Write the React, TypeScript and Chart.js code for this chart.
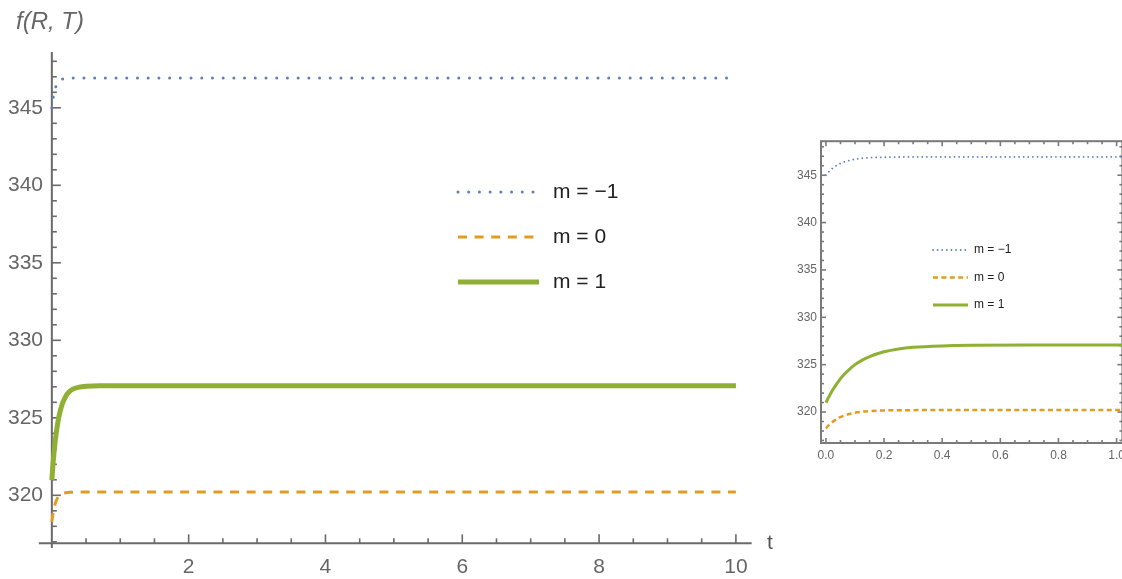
import React, { useEffect, useRef } from "react";
import { Chart, registerables } from "chart.js";

Chart.register(...registerables);

// ---- data ----
const tValues = [0, 0.01, 0.02, 0.03, 0.045, 0.06, 0.075, 0.1, 0.125, 0.15, 0.2, 0.25, 0.3, 0.4, 0.5, 0.7, 1, 2, 4, 6, 8, 10];
const fMinus1 = [345.0, 345.36, 345.66, 345.9, 346.17, 346.38, 346.52, 346.69, 346.79, 346.85, 346.9, 346.92, 346.93, 346.93, 346.93, 346.93, 346.93, 346.93, 346.93, 346.93, 346.93, 346.93];
const fZero = [318.28, 318.62, 318.89, 319.12, 319.4, 319.6, 319.75, 319.93, 320.04, 320.1, 320.17, 320.19, 320.2, 320.21, 320.21, 320.21, 320.21, 320.21, 320.21, 320.21, 320.21, 320.21];
const fOne = [320.98, 321.6, 322.16, 322.66, 323.32, 323.88, 324.35, 325.0, 325.48, 325.86, 326.36, 326.66, 326.83, 326.98, 327.04, 327.07, 327.07, 327.07, 327.07, 327.07, 327.07, 327.07];
const seriesLabels = ["m = \u22121", "m = 0", "m = 1"];
const seriesColors = ["#5E81B5", "#E19C24", "#8FB032"];
const mainYTicks = [320, 325, 330, 335, 340, 345];
const mainXTicks = [2, 4, 6, 8, 10];
const insetYTicks = [320, 325, 330, 335, 340, 345];
const insetXTicks = [0, 0.2, 0.4, 0.6, 0.8, 1.0];
const yAxisTitle = "f(R, T)";
const xAxisTitle = "t";

const SANS = "'Liberation Sans', Arial, sans-serif";
const NARROW = "'Liberation Sans Narrow', 'Arial Narrow', 'Liberation Sans', sans-serif";

function range(a: number, b: number, step: number) {
  const out: number[] = [];
  const n = Math.round((b - a) / step);
  for (let i = 0; i <= n; i++) out.push(+(a + i * step).toFixed(6));
  return out;
}

type Deco = {
  id: string;
  axisColor: string;
  axisWidth: number;
  frame: boolean;
  xAt: number;
  yAt: number;
  xLine: [number, number];
  yLine: [number, number];
  xMinor: number[];
  xMajor: number[];
  yMinor: number[];
  yMajor: number[];
  majorLen: number;
  minorLen: number;
  legend: { x0: number; len: number; textX: number; y0: number; dy: number; font: string; color: string };
  texts: { text: string; x: number; y: number; font: string; color: string }[];
};

function makeDeco(d: Deco) {
  return {
    id: d.id,
    beforeDatasetsDraw(chart: any) {
      const ctx = chart.ctx;
      const xs = chart.scales.x;
      const ys = chart.scales.y;
      const px = (v: number) => xs.getPixelForValue(v);
      const py = (v: number) => ys.getPixelForValue(v);
      ctx.save();
      ctx.strokeStyle = d.axisColor;
      ctx.lineWidth = d.axisWidth;
      ctx.lineCap = "butt";
      const isMajX = (v: number) => d.xMajor.some((m) => Math.abs(m - v) < 1e-6);
      const isMajY = (v: number) => d.yMajor.some((m) => Math.abs(m - v) < 1e-6);
      const l = px(d.xLine[0]);
      const r = px(d.xLine[1]);
      const top = py(d.yLine[1]);
      const bot = py(d.yLine[0]);
      const line = (x1: number, y1: number, x2: number, y2: number) => {
        ctx.beginPath();
        ctx.moveTo(x1, y1);
        ctx.lineTo(x2, y2);
        ctx.stroke();
      };
      if (d.frame) {
        ctx.strokeRect(l, top, r - l, bot - top);
        ctx.lineWidth = d.axisWidth * 0.8;
        d.xMinor.forEach((v) => {
          const len = isMajX(v) ? d.majorLen : d.minorLen;
          const x = px(v);
          line(x, bot, x, bot - len);
          line(x, top, x, top + len);
        });
        d.yMinor.forEach((v) => {
          const len = isMajY(v) ? d.majorLen : d.minorLen;
          const y = py(v);
          line(l, y, l + len, y);
          line(r, y, r - len, y);
        });
      } else {
        const ay = py(d.xAt);
        const ax = px(d.yAt);
        line(l, ay, r, ay);
        line(ax, top, ax, bot);
        ctx.lineWidth = d.axisWidth * 0.8;
        d.xMinor.forEach((v) => {
          const len = isMajX(v) ? d.majorLen : d.minorLen;
          const x = px(v);
          line(x, ay, x, ay - len);
        });
        d.yMinor.forEach((v) => {
          const len = isMajY(v) ? d.majorLen : d.minorLen;
          const y = py(v);
          line(ax, y, ax + len, y);
        });
      }
      ctx.restore();
    },
    afterDraw(chart: any) {
      const ctx = chart.ctx;
      const lg = d.legend;
      chart.data.datasets.forEach((ds: any, i: number) => {
        const y = lg.y0 + i * lg.dy;
        ctx.save();
        ctx.strokeStyle = ds.borderColor;
        ctx.lineWidth = ds.borderWidth;
        ctx.setLineDash(ds.borderDash || []);
        ctx.lineCap = ds.borderCapStyle || "butt";
        ctx.beginPath();
        ctx.moveTo(lg.x0, y);
        ctx.lineTo(lg.x0 + lg.len, y);
        ctx.stroke();
        ctx.restore();
        ctx.save();
        ctx.fillStyle = lg.color;
        ctx.font = lg.font;
        ctx.textAlign = "left";
        ctx.textBaseline = "middle";
        ctx.fillText(ds.label, lg.textX, y);
        ctx.restore();
      });
      d.texts.forEach((t) => {
        ctx.save();
        ctx.fillStyle = t.color;
        ctx.font = t.font;
        ctx.textAlign = "left";
        ctx.textBaseline = "middle";
        ctx.fillText(t.text, t.x, t.y);
        ctx.restore();
      });
    },
  };
}

function buildDatasets(styles: { width: number; dash: number[]; cap: string }[]) {
  const series = [fMinus1, fZero, fOne];
  return series.map((s, i) => ({
    label: seriesLabels[i],
    data: tValues.map((t, k) => ({ x: t, y: s[k] })),
    borderColor: seriesColors[i],
    backgroundColor: seriesColors[i],
    borderWidth: styles[i].width,
    borderDash: styles[i].dash,
    borderCapStyle: styles[i].cap,
    pointRadius: 0,
    fill: false,
    cubicInterpolationMode: "monotone",
  }));
}

function mainConfig(): any {
  const deco = makeDeco({
    id: "mainDeco",
    axisColor: "#6a6a6a",
    axisWidth: 2,
    frame: false,
    xAt: 316.9,
    yAt: 0,
    xLine: [-0.19, 10.23],
    yLine: [316.6, 348.6],
    xMinor: range(0.5, 10, 0.5),
    xMajor: mainXTicks,
    yMinor: range(317, 348, 1),
    yMajor: mainYTicks,
    majorLen: 9,
    minorLen: 5,
    legend: { x0: 458, len: 81, textX: 553, y0: 192, dy: 45, font: `21px ${SANS}`, color: "#222" },
    texts: [
      { text: yAxisTitle, x: 16, y: 22, font: `italic 24px ${SANS}`, color: "#666" },
      { text: xAxisTitle, x: 767, y: 543, font: `21px ${SANS}`, color: "#555" },
    ],
  });
  return {
    type: "line",
    data: {
      datasets: buildDatasets([
        { width: 3, dash: [0.01, 10.7], cap: "round" },
        { width: 3, dash: [9, 7.6], cap: "butt" },
        { width: 5, dash: [], cap: "butt" },
      ]),
    },
    options: {
      animation: false,
      responsive: false,
      maintainAspectRatio: false,
      layout: { padding: { left: 5, right: 47, top: 52, bottom: 0 } },
      plugins: { legend: { display: false }, tooltip: { enabled: false }, title: { display: false } },
      scales: {
        x: {
          type: "linear",
          min: -0.1,
          max: 10.25,
          grid: { display: false, drawTicks: false },
          border: { display: false },
          afterBuildTicks: (s: any) => {
            s.ticks = mainXTicks.map((v) => ({ value: v }));
          },
          afterFit: (s: any) => {
            s.height = 31;
          },
          ticks: { font: { size: 21, family: SANS }, color: "#666", padding: 7, autoSkip: false, maxRotation: 0 },
        },
        y: {
          type: "linear",
          min: 316.6,
          max: 348.6,
          grid: { display: false, drawTicks: false },
          border: { display: false },
          afterBuildTicks: (s: any) => {
            s.ticks = mainYTicks.map((v) => ({ value: v }));
          },
          afterFit: (s: any) => {
            s.width = 40;
          },
          ticks: { font: { size: 21, family: SANS }, color: "#666", padding: 2, autoSkip: false },
        },
      },
    },
    plugins: [deco],
  };
}

function insetConfig(): any {
  const deco = makeDeco({
    id: "insetDeco",
    axisColor: "#7a7a7a",
    axisWidth: 2,
    frame: true,
    xAt: 316.73,
    yAt: 0,
    xLine: [-0.017, 1.02],
    yLine: [316.73, 348.59],
    xMinor: range(0, 1, 0.05),
    xMajor: insetXTicks,
    yMinor: range(317, 348, 1),
    yMajor: insetYTicks,
    majorLen: 5,
    minorLen: 3,
    legend: { x0: 163, len: 35, textX: 204, y0: 120, dy: 27.5, font: `12px ${NARROW}`, color: "#222" },
    texts: [],
  });
  return {
    type: "line",
    data: {
      datasets: buildDatasets([
        { width: 1.8, dash: [0.01, 4.6], cap: "round" },
        { width: 2.5, dash: [5, 3.4], cap: "butt" },
        { width: 3, dash: [], cap: "butt" },
      ]),
    },
    options: {
      animation: false,
      responsive: false,
      maintainAspectRatio: false,
      layout: { padding: { left: 6, right: 3, top: 11, bottom: 0 } },
      plugins: { legend: { display: false }, tooltip: { enabled: false }, title: { display: false } },
      scales: {
        x: {
          type: "linear",
          min: -0.017,
          max: 1.02,
          grid: { display: false, drawTicks: false },
          border: { display: false },
          afterBuildTicks: (s: any) => {
            s.ticks = insetXTicks.map((v) => ({ value: v }));
          },
          afterFit: (s: any) => {
            s.height = 27;
          },
          ticks: {
            font: { size: 12, family: NARROW },
            color: "#666",
            padding: 5,
            autoSkip: false,
            maxRotation: 0,
            callback: (v: any) => Number(v).toFixed(1),
          },
        },
        y: {
          type: "linear",
          min: 316.73,
          max: 348.59,
          grid: { display: false, drawTicks: false },
          border: { display: false },
          afterBuildTicks: (s: any) => {
            s.ticks = insetYTicks.map((v) => ({ value: v }));
          },
          afterFit: (s: any) => {
            s.width = 45;
          },
          ticks: { font: { size: 12, family: NARROW }, color: "#666", padding: 4, autoSkip: false },
        },
      },
    },
    plugins: [deco],
  };
}

export default function App() {
  const mainRef = useRef<HTMLCanvasElement | null>(null);
  const insetRef = useRef<HTMLCanvasElement | null>(null);

  useEffect(() => {
    const charts: Chart[] = [];
    if (mainRef.current) charts.push(new Chart(mainRef.current, mainConfig()));
    if (insetRef.current) charts.push(new Chart(insetRef.current, insetConfig()));
    return () => charts.forEach((c) => c.destroy());
  }, []);

  return (
    <div
      style={{
        position: "absolute",
        left: 0,
        top: 0,
        width: 1122,
        height: 579,
        overflow: "hidden",
        background: "#fff",
      }}
    >
      <div style={{ position: "absolute", left: 0, top: 0, width: 800, height: 579 }}>
        <canvas ref={mainRef} width={800} height={579} style={{ width: 800, height: 579, display: "block" }} />
      </div>
      <div style={{ position: "absolute", left: 770, top: 130, width: 360, height: 340 }}>
        <canvas ref={insetRef} width={360} height={340} style={{ width: 360, height: 340, display: "block" }} />
      </div>
    </div>
  );
}
